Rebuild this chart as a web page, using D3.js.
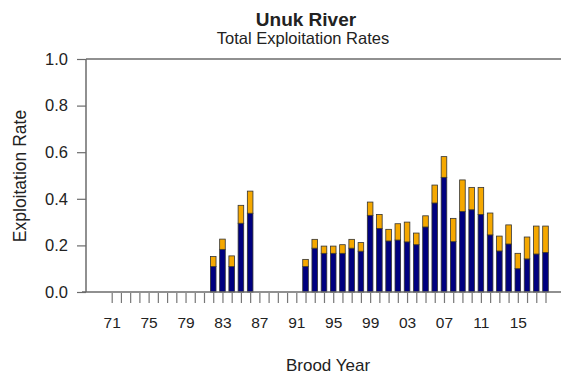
<!DOCTYPE html>
<html>
<head>
<meta charset="utf-8">
<script src="https://cdn.jsdelivr.net/npm/d3@7"></script>
<style>
  body { margin: 0; background: #fff; }
  text { font-family: "Liberation Sans", Arial, sans-serif; fill: #222; }
</style>
</head>
<body>
<svg id="chart" width="561" height="377"></svg>
<script>
// Brood years 1971-2018
var years = d3.range(1971, 2019);

// lower (navy) part of each bar, null = no estimate
var lowerPart = [null, null, null, null, null, null, null, null, null, null, null,
    0.109, 0.183, 0.109, 0.295, 0.338,
    null, null, null, null, null,
    0.109, 0.188, 0.166, 0.166, 0.166, 0.188, 0.175, 0.329, 0.273, 0.219,
    0.223, 0.215, 0.203, 0.279, 0.382, 0.492, 0.216, 0.346, 0.353, 0.333,
    0.245, 0.176, 0.206, 0.100, 0.142, 0.163, 0.170];

// upper (orange) part stacked on top
var upperPart = [null, null, null, null, null, null, null, null, null, null, null,
    0.043, 0.044, 0.046, 0.077, 0.095,
    null, null, null, null, null,
    0.031, 0.038, 0.031, 0.031, 0.037, 0.038, 0.037, 0.057, 0.060, 0.050,
    0.070, 0.085, 0.050, 0.048, 0.077, 0.089, 0.100, 0.135, 0.096, 0.116,
    0.094, 0.064, 0.082, 0.066, 0.094, 0.120, 0.113];

var yTicks = [0, 0.2, 0.4, 0.6, 0.8, 1.0];
var labelYears = d3.range(1971, 2019, 4);

var svg = d3.select("#chart");

var x = d3.scalePoint().domain(years).range([111.7, 545.5]);
var y = d3.scaleLinear().domain([0, 1]).range([292, 59]);

var barW = 5.6;

// titles
svg.append("text")
    .attr("x", 306).attr("y", 26)
    .attr("text-anchor", "middle")
    .style("font-size", "19px").style("font-weight", "bold")
    .text("Unuk River");
svg.append("text")
    .attr("x", 303).attr("y", 44)
    .attr("text-anchor", "middle")
    .style("font-size", "16.5px")
    .text("Total Exploitation Rates");

// bars
var rows = years.map(function(yr, i) {
    return {year: yr, lower: lowerPart[i], upper: upperPart[i]};
}).filter(function(d) { return d.lower != null; });

var g = svg.append("g");
g.selectAll(".low")
    .data(rows)
    .enter().append("rect")
    .attr("class", "low")
    .attr("x", function(d) { return x(d.year) - barW / 2; })
    .attr("y", function(d) { return y(d.lower); })
    .attr("width", barW)
    .attr("height", function(d) { return y(0) - y(d.lower); })
    .attr("fill", "#00007f")
    .attr("stroke", "#333")
    .attr("stroke-width", 0.8);

g.selectAll(".up")
    .data(rows)
    .enter().append("rect")
    .attr("class", "up")
    .attr("x", function(d) { return x(d.year) - barW / 2; })
    .attr("y", function(d) { return y(d.lower + d.upper); })
    .attr("width", barW)
    .attr("height", function(d) { return y(d.lower) - y(d.lower + d.upper); })
    .attr("fill", "#f5a800")
    .attr("stroke", "#333")
    .attr("stroke-width", 0.8);

// frame: left, top and bottom lines
var frameColor = "#6b6b6b";
svg.append("line")
    .attr("x1", 86).attr("x2", 86).attr("y1", y(1)).attr("y2", y(0))
    .attr("stroke", frameColor).attr("stroke-width", 1.5);
svg.append("line")
    .attr("x1", 86).attr("x2", 561).attr("y1", y(1)).attr("y2", y(1))
    .attr("stroke", frameColor).attr("stroke-width", 1.5);
svg.append("line")
    .attr("x1", 82).attr("x2", 561).attr("y1", y(0)).attr("y2", y(0))
    .attr("stroke", frameColor).attr("stroke-width", 1.5);

// y axis
var yAxis = svg.append("g")
    .attr("transform", "translate(86,0)")
    .call(d3.axisLeft(y).tickValues(yTicks).tickFormat(d3.format(".1f")).tickSize(9).tickPadding(9));
yAxis.select(".domain").remove();
yAxis.selectAll(".tick line").attr("stroke", frameColor).attr("stroke-width", 1.2);
yAxis.selectAll(".tick text")
    .style("font-size", "16.5px").attr("fill", "#222")
    .style("font-family", "'Liberation Sans', Arial, sans-serif");

// x axis: tick on every year, label every fourth
var xAxis = svg.append("g")
    .attr("transform", "translate(0," + (y(0) + 1) + ")")
    .call(d3.axisBottom(x).tickSize(10).tickPadding(14)
        .tickFormat(function(d) { return labelYears.indexOf(d) >= 0 ? String(d).slice(2) : ""; }));
xAxis.select(".domain").remove();
xAxis.selectAll(".tick line").attr("stroke", "#777").attr("stroke-width", 1.2);
xAxis.selectAll(".tick text")
    .style("font-size", "15.5px").attr("fill", "#222")
    .style("font-family", "'Liberation Sans', Arial, sans-serif");

// axis titles
svg.append("text")
    .attr("transform", "translate(25.5,176) rotate(-90)")
    .attr("text-anchor", "middle")
    .style("font-size", "17.5px")
    .text("Exploitation Rate");
svg.append("text")
    .attr("x", 328).attr("y", 371)
    .attr("text-anchor", "middle")
    .style("font-size", "17px")
    .text("Brood Year");
</script>
</body>
</html>
